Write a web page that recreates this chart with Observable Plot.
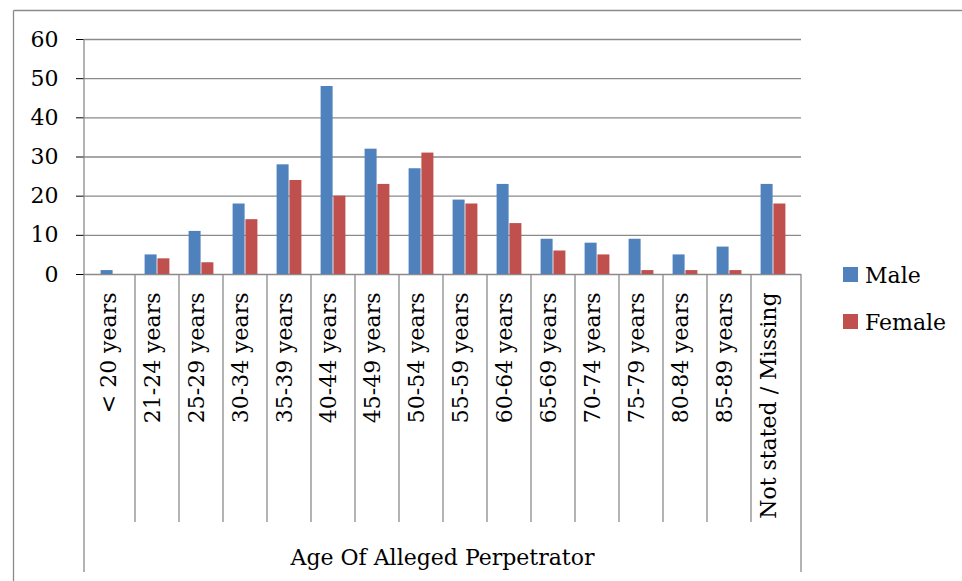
<!DOCTYPE html>
<html>
<head>
<meta charset="utf-8">
<script src="https://cdn.jsdelivr.net/npm/d3@7"></script>
<script src="https://cdn.jsdelivr.net/npm/@observablehq/plot@0.6"></script>
<style>
  html, body { margin: 0; padding: 0; background: #fff; }
  #chart { position: relative; width: 962px; height: 581px; }
  #chart svg text { font-family: "DejaVu Serif", serif; font-size: 22px; fill: #000; }
</style>
</head>
<body>
<div id="chart"></div>
<script>
const categories = ["< 20 years", "21-24 years", "25-29 years", "30-34 years", "35-39 years",
  "40-44 years", "45-49 years", "50-54 years", "55-59 years", "60-64 years", "65-69 years",
  "70-74 years", "75-79 years", "80-84 years", "85-89 years", "Not stated / Missing"];
const male   = [1, 5, 11, 18, 28, 48, 32, 27, 19, 23, 9, 8, 9, 5, 7, 23];
const female = [0, 4, 3, 14, 24, 20, 23, 31, 18, 13, 6, 5, 1, 1, 1, 18];
const yTicks = [0, 10, 20, 30, 40, 50, 60];
const seriesNames = ["Male", "Female"];
const seriesColors = ["#4F81BD", "#C0504D"];
const xTitle = "Age Of Alleged Perpetrator";

const maleData = categories.map((c, i) => ({category: c, value: male[i]}));
const femaleData = categories.map((c, i) => ({category: c, value: female[i]}));
const gray = "#8a8a8a";

const plot = Plot.plot({
  width: 962,
  height: 581,
  marginLeft: 84,
  marginRight: 161,
  marginTop: 39,
  marginBottom: 307,
  style: {fontFamily: "DejaVu Serif", fontSize: "22px", color: "#000", background: "#fff"},
  x: {domain: categories, padding: 0, tickSize: 0, tickRotate: -90, tickPadding: 18, label: null},
  y: {domain: [0, 60], ticks: yTicks, tickSize: 8, tickPadding: 18, label: null, tickFormat: d => String(d)},
  marks: [
    Plot.ruleY(yTicks, {stroke: gray, strokeWidth: 1.3}),
    Plot.barY(maleData, {x: "category", y: "value", fill: seriesColors[0], insetLeft: 9.6, insetRight: 22.4}),
    Plot.barY(femaleData, {x: "category", y: "value", fill: seriesColors[1], insetLeft: 22.4, insetRight: 9.6})
  ]
});

document.getElementById("chart").appendChild(plot);

const svg = d3.select(plot);
// nudge rotated category labels to sit centred on their band
svg.selectAll("text").each(function() {
  if (categories.includes(this.textContent)) {
    const t = this.getAttribute("transform") || "";
    this.setAttribute("transform", "translate(-5,0) " + t);
  }
});

// structural lines, title and legend using the plot's own scales
const xs = plot.scale("x");
const ys = plot.scale("y");
const y0 = ys.apply(0);
const yTop = ys.apply(60);
const x0 = xs.range[0];
const x1 = xs.range[1];
const g = svg.append("g").attr("stroke", gray).attr("stroke-width", 1.3);
const sepBottom = 522, outerBottom = 572;
categories.forEach((c, i) => {
  if (i === 0) return;
  const x = xs.apply(c);
  g.append("line").attr("x1", x).attr("x2", x).attr("y1", y0).attr("y2", sepBottom);
});
g.append("line").attr("x1", x0).attr("x2", x0).attr("y1", yTop).attr("y2", outerBottom);
g.append("line").attr("x1", x1).attr("x2", x1).attr("y1", y0).attr("y2", outerBottom);
// outer chart frame
g.append("line").attr("x1", 13.5).attr("x2", 962).attr("y1", 10.5).attr("y2", 10.5);
g.append("line").attr("x1", 13.5).attr("x2", 13.5).attr("y1", 10.5).attr("y2", 581);

svg.append("text").attr("x", (x0 + x1) / 2).attr("y", 565)
  .attr("text-anchor", "middle").text(xTitle);

const leg = svg.append("g").attr("text-anchor", "start");
seriesNames.forEach((name, i) => {
  const top = 267 + i * 47;
  leg.append("rect").attr("x", 843).attr("y", top).attr("width", 15).attr("height", 15).attr("fill", seriesColors[i]);
  leg.append("text").attr("x", 865).attr("y", top + 16).attr("text-anchor", "start").text(name);
});
</script>
</body>
</html>
